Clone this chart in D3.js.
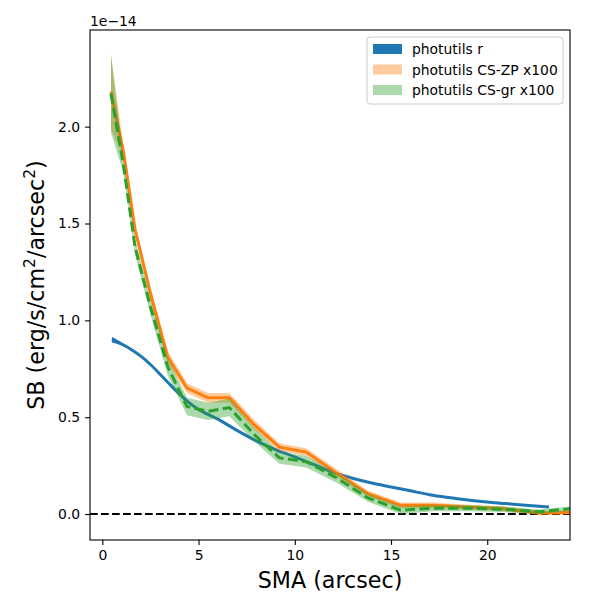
<!DOCTYPE html>
<html>
<head>
<meta charset="utf-8">
<script src="https://cdn.jsdelivr.net/npm/d3@7"></script>
<style>
  body { margin: 0; background: #fff; }
  text { font-family: "DejaVu Sans", sans-serif; fill: #000; }
</style>
</head>
<body>
<div id="chart"></div>
<script>
// photutils r profile (own SMA grid), values in units of 1e-14
const smaR = [0.5, 1.0, 1.5, 2.0, 2.5, 3.0, 3.5, 4.0, 4.5, 5.0, 6.0, 7.0, 8.0, 9.0, 10.0,
              11.0, 12.0, 13.0, 14.0, 15.0, 16.0, 17.0, 18.0, 19.0, 20.0, 21.0, 22.0, 23.2];
const sbR = [0.90, 0.878, 0.85, 0.815, 0.772, 0.722, 0.67, 0.62, 0.575, 0.54, 0.49, 0.432, 0.378,
             0.333, 0.295, 0.255, 0.215, 0.185, 0.16, 0.14, 0.12, 0.10, 0.085, 0.072, 0.062, 0.054, 0.045, 0.036];
const errR = [0.015, 0.008, 0.005, 0.004, 0.003, 0.003, 0.003, 0.003, 0.003, 0.003, 0.003, 0.003, 0.003,
              0.003, 0.003, 0.003, 0.003, 0.003, 0.003, 0.003, 0.003, 0.003, 0.003, 0.003, 0.003, 0.003, 0.003, 0.003];

// CS profiles (x100)
const smaCS = [0.45, 1.1, 1.7, 2.5, 3.4, 4.4, 5.5, 6.6, 7.9, 9.2, 10.6, 12.2, 13.8, 15.5, 17.2, 19.0, 20.8, 22.7, 24.6];
const sbZP = [2.18, 1.87, 1.47, 1.14, 0.81, 0.65, 0.60, 0.60, 0.46, 0.345, 0.32, 0.21, 0.105, 0.045, 0.045, 0.036, 0.028, 0.005, 0.008];
const errZP = [0.19, 0.03, 0.03, 0.03, 0.03, 0.025, 0.025, 0.025, 0.025, 0.02, 0.02, 0.02, 0.015, 0.015, 0.015, 0.012, 0.012, 0.01, 0.01];
const sbGR = [2.17, 1.80, 1.38, 1.07, 0.76, 0.555, 0.53, 0.55, 0.41, 0.29, 0.27, 0.185, 0.083, 0.02, 0.03, 0.03, 0.025, 0.012, 0.03];
const errGR = [0.20, 0.04, 0.04, 0.04, 0.045, 0.045, 0.045, 0.045, 0.035, 0.03, 0.03, 0.025, 0.02, 0.02, 0.015, 0.015, 0.015, 0.012, 0.012];

const xTicks = [0, 5, 10, 15, 20];
const yTicks = [0, 0.5, 1.0, 1.5, 2.0];
const legendLabels = ["photutils r", "photutils CS-ZP x100", "photutils CS-gr x100"];

const W = 600, H = 600;
const margin = { left: 90, right: 30, top: 30, bottom: 60 };

const svg = d3.select("#chart").append("svg")
    .attr("width", W).attr("height", H);

const x = d3.scaleLinear().domain([-0.64, 24.3]).range([margin.left, W - margin.right]);
const y = d3.scaleLinear().domain([-0.134, 2.499]).range([H - margin.bottom, margin.top]);

svg.append("clipPath").attr("id", "clip")
    .append("rect")
    .attr("x", margin.left).attr("y", margin.top)
    .attr("width", W - margin.left - margin.right)
    .attr("height", H - margin.top - margin.bottom);

const plot = svg.append("g").attr("clip-path", "url(#clip)");

function series(sma, sb, err) {
    return sma.map((s, i) => ({ x: s, y: sb[i], e: err[i] }));
}

const area = d3.area()
    .x(d => x(d.x))
    .y0(d => y(d.y - d.e))
    .y1(d => y(d.y + d.e));
const line = d3.line().x(d => x(d.x)).y(d => y(d.y));

// zero line
plot.append("line")
    .attr("x1", margin.left).attr("x2", W - margin.right)
    .attr("y1", y(0)).attr("y2", y(0))
    .attr("stroke", "#000").attr("stroke-width", 2)
    .attr("stroke-dasharray", "7.7,3.3");

const dataR = series(smaR, sbR, errR);
const dataZP = series(smaCS, sbZP, errZP);
const dataGR = series(smaCS, sbGR, errGR);

// blue profile is densely sampled in the original, so smooth it
plot.append("path").attr("d", area.curve(d3.curveMonotoneX)(dataR)).attr("fill", "#1f77b4");
plot.append("path").attr("d", line.curve(d3.curveMonotoneX)(dataR))
    .attr("fill", "none").attr("stroke", "#1f77b4").attr("stroke-width", 3);
area.curve(d3.curveLinear);
line.curve(d3.curveLinear);

plot.append("path").attr("d", area(dataZP)).attr("fill", "#ff7f0e").attr("fill-opacity", 0.4);
plot.append("path").attr("d", line(dataZP))
    .attr("fill", "none").attr("stroke", "#ff7f0e").attr("stroke-width", 3);

plot.append("path").attr("d", area(dataGR)).attr("fill", "#2ca02c").attr("fill-opacity", 0.4);
plot.append("path").attr("d", line(dataGR))
    .attr("fill", "none").attr("stroke", "#2ca02c").attr("stroke-width", 3)
    .attr("stroke-dasharray", "10,4.4");

// axes
const xAxis = svg.append("g")
    .attr("transform", `translate(0,${H - margin.bottom})`)
    .call(d3.axisBottom(x).tickValues(xTicks).tickFormat(d3.format("d"))
        .tickSizeInner(4.9).tickSizeOuter(0).tickPadding(4.9));
const yAxis = svg.append("g")
    .attr("transform", `translate(${margin.left},0)`)
    .call(d3.axisLeft(y).tickValues(yTicks).tickFormat(d3.format(".1f"))
        .tickSizeInner(4.9).tickSizeOuter(0).tickPadding(4.9));

[xAxis, yAxis].forEach(g => {
    g.select(".domain").remove();
    g.selectAll(".tick line").attr("stroke", "#000").attr("stroke-width", 1.1);
    g.selectAll(".tick text").attr("font-size", 13.9).attr("fill", "#000")
        .style("font-family", "DejaVu Sans, sans-serif");
});

// frame
svg.append("rect")
    .attr("x", margin.left).attr("y", margin.top)
    .attr("width", W - margin.left - margin.right)
    .attr("height", H - margin.top - margin.bottom)
    .attr("fill", "none").attr("stroke", "#000").attr("stroke-width", 1.1);

// offset text
svg.append("text").attr("x", margin.left).attr("y", 26)
    .attr("font-size", 13.9).text("1e\u221214");

// axis labels
svg.append("text")
    .attr("x", (margin.left + W - margin.right) / 2).attr("y", 588)
    .attr("text-anchor", "middle").attr("font-size", 22.2)
    .text("SMA (arcsec)");

const yl = svg.append("text")
    .attr("transform", `translate(44,${(margin.top + H - margin.bottom) / 2}) rotate(-90)`)
    .attr("text-anchor", "middle").attr("font-size", 22.2);
yl.append("tspan").text("SB (erg/s/cm");
yl.append("tspan").attr("baseline-shift", "super").attr("font-size", 15.5).text("2");
yl.append("tspan").text("/arcsec");
yl.append("tspan").attr("baseline-shift", "super").attr("font-size", 15.5).text("2");
yl.append("tspan").text(")");

// legend
const legendColors = [["#1f77b4", 1], ["#ff7f0e", 0.4], ["#2ca02c", 0.4]];
const lg = svg.append("g").attr("transform", "translate(367,37)");
lg.append("rect").attr("width", 196).attr("height", 67).attr("rx", 3)
    .attr("fill", "#fff").attr("fill-opacity", 0.8)
    .attr("stroke", "#cccccc").attr("stroke-width", 1);
legendLabels.forEach((lab, i) => {
    const row = lg.append("g").attr("transform", `translate(0,${12 + i * 20.5})`);
    row.append("rect").attr("x", 6).attr("y", -5).attr("width", 29).attr("height", 10)
        .attr("fill", legendColors[i][0]).attr("fill-opacity", legendColors[i][1]);
    row.append("text").attr("x", 45).attr("y", 5).attr("font-size", 13.9).text(lab);
});
</script>
</body>
</html>
